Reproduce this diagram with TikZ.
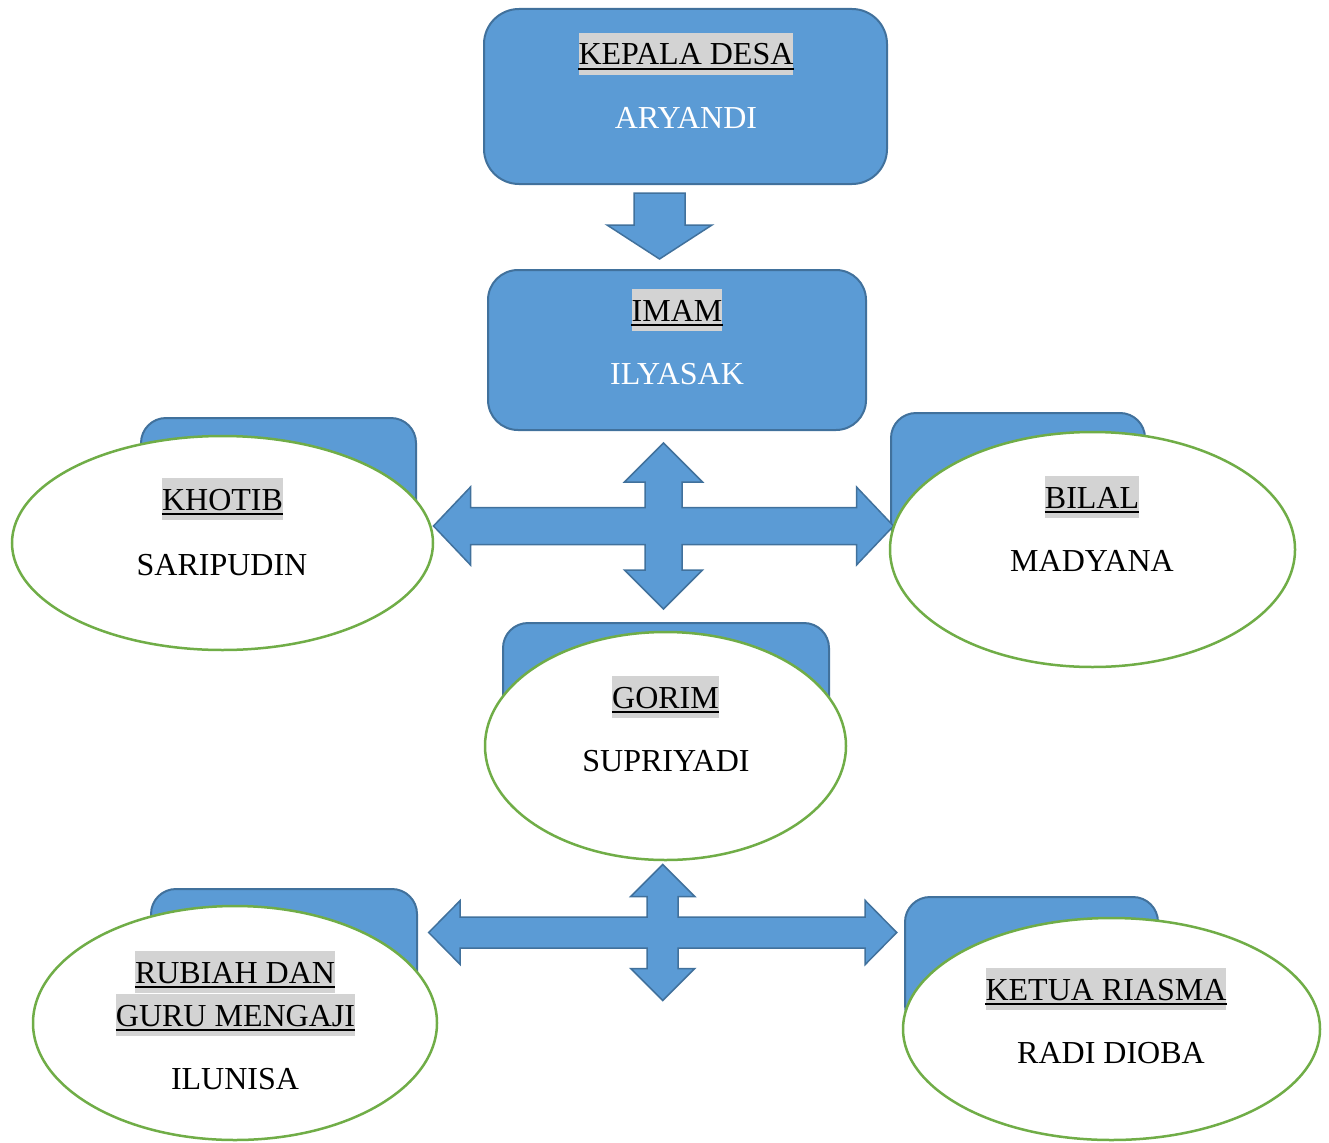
\documentclass[tikz,border=0pt]{standalone}
\usepackage{fontspec}
\setmainfont{Liberation Serif}
\usetikzlibrary{shapes.geometric}
\definecolor{boxfill}{HTML}{5B9BD5}
\definecolor{boxline}{HTML}{41719C}
\definecolor{ringline}{HTML}{70AD47}
\definecolor{hlgray}{HTML}{D3D3D3}
\tikzset{
  bluebox/.style={draw=boxline, fill=boxfill, line width=2pt, rounded corners=#1, inner sep=0pt},
  tabbox/.style={draw=boxline, fill=boxfill, line width=2pt, rounded corners=25pt, inner sep=0pt},
  oval/.style={ellipse, draw=ringline, fill=white, line width=2.5pt, inner sep=0pt},
  hdr/.style={fill=hlgray, anchor=base, inner sep=0pt, text height=32pt, text depth=10pt, font=\fontsize{32}{38}\selectfont},
  nm/.style={anchor=base, inner sep=0pt, font=\fontsize{32}{38}\selectfont},
  uline/.style={line width=2.5pt, black},
  blockarrow/.style={draw=boxline, fill=boxfill, line width=1.5pt, line join=miter},
}
% #1 center, #2 tip x, #3 head base x, #4 tip y, #5 head base y, #6 head half-width, #7 shaft half-width
\newcommand\crossarrow[7]{%
  \path[blockarrow, shift={#1}] (0,-#4) -- (#6,-#5) -- (#7,-#5) -- (#7,-#7) -- (#3,-#7) -- (#3,-#6) -- (#2,0) -- (#3,#6) -- (#3,#7) -- (#7,#7) -- (#7,#5) -- (#6,#5) -- (0,#4) -- (-#6,#5) -- (-#7,#5) -- (-#7,#7) -- (-#3,#7) -- (-#3,#6) -- (-#2,0) -- (-#3,-#6) -- (-#3,-#7) -- (-#7,-#7) -- (-#7,-#5) -- (-#6,-#5) -- cycle;}
\newcommand\headline[3]{% #1 name, #2 position, #3 text
  \node[hdr] (#1) at #2 {#3};
  \draw[uline] ([yshift=-4pt]#1.base west) -- ([yshift=-4pt]#1.base east);}
\begin{document}
\begin{tikzpicture}[x=1pt, y=-1pt]
\useasboundingbox (0,0) rectangle (1329,1142);

% tabs behind ovals
\node[tabbox, minimum width=275pt, minimum height=152pt] (khotibtab) at (278.5,494) {};
\node[tabbox, minimum width=254pt, minimum height=135pt] (bilaltab) at (1018,480.5) {};
\node[tabbox, minimum width=326pt, minimum height=137pt] (gorimtab) at (666,691.5) {};
\node[tabbox, minimum width=266pt, minimum height=141pt] (rubiahtab) at (284,959.5) {};
\node[tabbox, minimum width=253pt, minimum height=133pt] (ketuatab) at (1031.5,963.5) {};

% top boxes
\node[bluebox=35pt, minimum width=403pt, minimum height=175pt] (kd) at (685.5,96.5) {};
\node[bluebox=30pt, minimum width=378pt, minimum height=160pt] (imam) at (677,350) {};

% down arrow
\coordinate (dtop) at (659.5,193);
\path[blockarrow, shift={(dtop)}] (-25.5,0) -- (25.5,0) -- (25.5,32) -- (52.5,32) -- (0,66) -- (-52.5,32) -- (-25.5,32) -- cycle;

% cross arrows
\coordinate (c1) at (663.5,526);
\crossarrow{(c1)}{230}{193}{83}{44}{39}{18.5}
\coordinate (c2) at (662.7,932.5);
\crossarrow{(c2)}{234}{202.5}{68}{36}{32}{15.5}

% ovals
\node[oval, minimum width=421pt, minimum height=214pt] (khotib) at (222.5,543) {};
\node[oval, minimum width=405pt, minimum height=235pt] (bilal) at (1092.5,549.5) {};
\node[oval, minimum width=361pt, minimum height=228pt] (gorim) at (665.5,746) {};
\node[oval, minimum width=404pt, minimum height=234pt] (rubiah) at (235,1023) {};
\node[oval, minimum width=417pt, minimum height=222pt] (ketua) at (1111.5,1029) {};

% texts
\headline{kdh}{(686,65)}{KEPALA DESA}
\node[nm, text=white] (kdn) at (686,129) {ARYANDI};
\headline{imh}{(677,321)}{IMAM}
\node[nm, text=white] (imn) at (677,384) {ILYASAK};
\headline{khh}{(222.5,510)}{KHOTIB}
\node[nm] (khn) at (222,575) {SARIPUDIN};
\headline{bih}{(1092,508)}{BILAL}
\node[nm] (bin) at (1092,571) {MADYANA};
\headline{goh}{(665.5,708)}{GORIM}
\node[nm] (gon) at (666,771) {SUPRIYADI};
\headline{ruh1}{(235,983)}{RUBIAH DAN}
\headline{ruh2}{(235.5,1026)}{GURU MENGAJI}
\node[nm] (run) at (235,1089) {ILUNISA};
\headline{keh}{(1106,1000)}{KETUA RIASMA}
\node[nm] (ken) at (1111,1063) {RADI DIOBA};
\end{tikzpicture}
\end{document}
